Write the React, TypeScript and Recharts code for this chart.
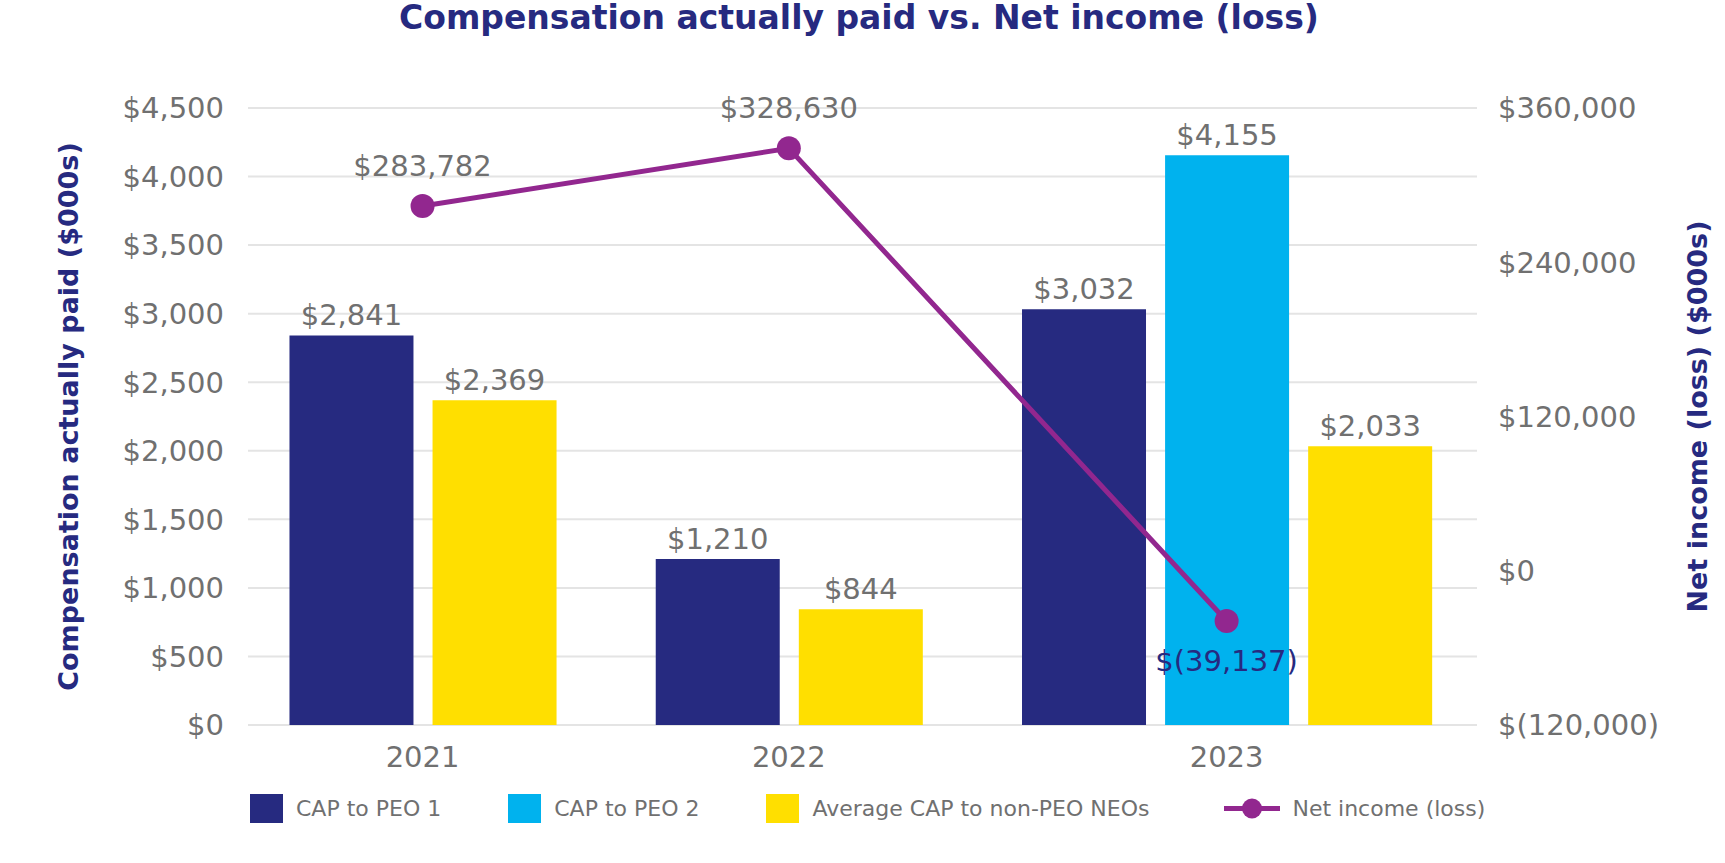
import React from 'react'
import { Bar, CartesianGrid, Cell, ComposedChart, LabelList, Line, XAxis, YAxis } from 'recharts'

const years = ['2021', '2022', '2023']
const capPeo1: (number | null)[] = [2841, 1210, 3032]
const capPeo2: (number | null)[] = [null, null, 4155]
const avgCapNonPeo: (number | null)[] = [2369, 844, 2033]
const netIncome = [283782, 328630, -39137]

const compTicks = [0, 500, 1000, 1500, 2000, 2500, 3000, 3500, 4000, 4500]
const netTicks = [-120000, 0, 120000, 240000, 360000]

const NAVY = '#262A80'
const SKY = '#00B2EE'
const YELLOW = '#FFDF00'
const PURPLE = '#92278F'
const GRAY = '#707070'
const GRID = '#E4E4E4'
const FONT = '"DejaVu Sans", Verdana, sans-serif'
const NUM_SIZE = 29

const series = [
  { name: 'CAP to PEO 1', color: NAVY, values: capPeo1 },
  { name: 'CAP to PEO 2', color: SKY, values: capPeo2 },
  { name: 'Average CAP to non-PEO NEOs', color: YELLOW, values: avgCapNonPeo },
]

// bars of a year sit side by side, a year with fewer bars takes less room
const GROUP_STEP = 1.56
type BarRow = { pos: number; value: number; color: string }
type NetRow = { pos: number; net: number; year: string }
const barRows: BarRow[] = []
const netRows: NetRow[] = []
let cursor = 0
years.forEach((year, i) => {
  const start = cursor
  series.forEach((s) => {
    const v = s.values[i]
    if (v == null) return
    barRows.push({ pos: cursor, value: v, color: s.color })
    cursor += 1
  })
  const end = cursor - 1
  netRows.push({ pos: (start + end) / 2, net: netIncome[i], year })
  cursor = end + GROUP_STEP
})
const xDomain = [barRows[0].pos - 0.72, barRows[barRows.length - 1].pos + 0.75]

const money = (v: number) =>
  v < 0 ? `$(${Math.abs(v).toLocaleString('en-US')})` : `$${v.toLocaleString('en-US')}`

const yearAt = (p: number) => netRows.find((r) => Math.abs(r.pos - p) < 1e-6)?.year ?? ''

function NetLabel(props: any) {
  const { x, y, value } = props
  if (x == null || y == null) return null
  const neg = value < 0
  return (
    <text
      x={x}
      y={neg ? y + 40 : y - 40}
      textAnchor="middle"
      dominantBaseline="central"
      fill={neg ? NAVY : GRAY}
      fontSize={NUM_SIZE}
    >
      {money(value)}
    </text>
  )
}

function LegendRow() {
  return (
    <div
      style={{
        position: 'absolute',
        top: 794,
        left: 250,
        display: 'flex',
        alignItems: 'center',
        gap: 67,
        fontSize: 22,
        color: GRAY,
        height: 29,
      }}
    >
      {series.map((s) => (
        <div key={s.name} style={{ display: 'flex', alignItems: 'center', gap: 13 }}>
          <span style={{ width: 33, height: 29, background: s.color, display: 'inline-block' }} />
          <span>{s.name}</span>
        </div>
      ))}
      <div style={{ display: 'flex', alignItems: 'center', gap: 12, marginLeft: 8 }}>
        <svg width={56} height={29}>
          <line x1={0} x2={56} y1={14.5} y2={14.5} stroke={PURPLE} strokeWidth={5} />
          <circle cx={28} cy={14.5} r={10} fill={PURPLE} />
        </svg>
        <span>Net income (loss)</span>
      </div>
    </div>
  )
}

export default function App() {
  return (
    <div style={{ position: 'absolute', left: 0, top: 0, width: 1725, height: 863, fontFamily: FONT, background: '#fff' }}>
      <div
        style={{
          position: 'absolute',
          top: 0,
          left: 0,
          width: 1718,
          textAlign: 'center',
          fontSize: 33,
          lineHeight: '36px',
          fontWeight: 'bold',
          color: NAVY,
        }}
      >
        Compensation actually paid vs. Net income (loss)
      </div>
      <ComposedChart
        width={1725}
        height={863}
        data={barRows}
        margin={{ top: 108, right: 0, bottom: 78, left: 0 }}
      >
        <CartesianGrid xAxisId="bars" yAxisId="comp" vertical={false} stroke={GRID} strokeWidth={2} />
        <XAxis
          xAxisId="bars"
          dataKey="pos"
          type="number"
          domain={xDomain}
          allowDataOverflow
          ticks={netRows.map((r) => r.pos)}
          interval={0}
          tickFormatter={yearAt}
          axisLine={false}
          tickLine={false}
          tickSize={0}
          tickMargin={21}
          height={60}
          tick={{ fontSize: NUM_SIZE, fill: GRAY }}
        />
        <XAxis xAxisId="net" dataKey="pos" type="number" domain={xDomain} allowDataOverflow hide />
        <YAxis
          yAxisId="comp"
          domain={[0, 4500]}
          ticks={compTicks}
          tickFormatter={money}
          width={248}
          axisLine={false}
          tickLine={false}
          tickSize={0}
          tickMargin={24}
          tick={{ fontSize: NUM_SIZE, fill: GRAY }}
          label={{
            value: 'Compensation actually paid ($000s)',
            angle: -90,
            position: 'insideLeft',
            offset: 68,
            style: { textAnchor: 'middle', fontSize: 27, fontWeight: 'bold', fill: NAVY },
          }}
        />
        <YAxis
          yAxisId="net"
          orientation="right"
          domain={[-120000, 360000]}
          ticks={netTicks}
          tickFormatter={money}
          width={248}
          axisLine={false}
          tickLine={false}
          tickSize={0}
          tickMargin={21}
          tick={{ fontSize: NUM_SIZE, fill: GRAY, textAnchor: 'start' }}
          label={{
            value: 'Net income (loss) ($000s)',
            angle: -90,
            position: 'insideRight',
            offset: 28,
            style: { textAnchor: 'middle', fontSize: 27, fontWeight: 'bold', fill: NAVY },
          }}
        />
        <Bar xAxisId="bars" yAxisId="comp" dataKey="value" barSize={124} isAnimationActive={false}>
          {barRows.map((r, i) => (
            <Cell key={i} fill={r.color} />
          ))}
          <LabelList
            dataKey="value"
            position="top"
            offset={10}
            formatter={(v: any) => money(Number(v))}
            style={{ fontSize: NUM_SIZE, fill: GRAY }}
          />
        </Bar>
        <Line
          data={netRows}
          xAxisId="net"
          yAxisId="net"
          dataKey="net"
          stroke={PURPLE}
          strokeWidth={5}
          dot={{ r: 12, fill: PURPLE, stroke: PURPLE, strokeWidth: 0 }}
          activeDot={false}
          label={<NetLabel />}
          isAnimationActive={false}
        />
      </ComposedChart>
      <LegendRow />
    </div>
  )
}
